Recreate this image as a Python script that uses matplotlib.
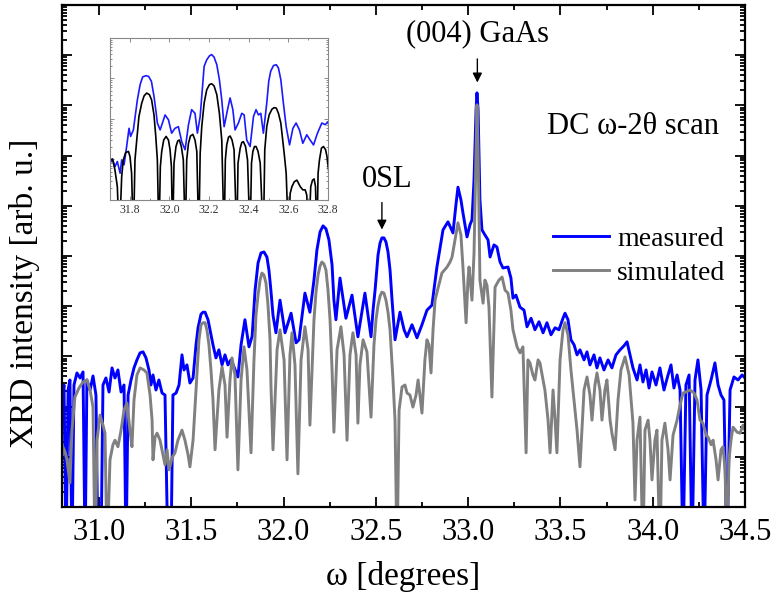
import numpy as np
import matplotlib
matplotlib.use('Agg')
import matplotlib.pyplot as plt
from matplotlib.ticker import LogLocator, NullFormatter, MultipleLocator

# values: (omega [deg], log10 intensity); -1 means the trace drops below the axis
measuredPoints = [
    (30.800, 2.23), (30.811, 2.43), (30.822, -1), (30.833, 2.33), (30.843, 2.53), (30.854, -1),
    (30.865, 2.43), (30.881, 2.67), (30.898, 2.57), (30.914, 2.69), (30.925, -1), (30.935, 2.53),
    (30.952, 2.33), (30.968, 2.61), (30.984, 2.23), (30.995, -1), (31.011, -1), (31.022, 2.43),
    (31.038, 2.57), (31.055, 2.29), (31.071, 2.77), (31.087, 2.57), (31.103, 2.73), (31.120, 2.29),
    (31.136, 2.43), (31.147, -1), (31.158, 2.23), (31.174, 2.53), (31.190, 2.77), (31.206, 2.93),
    (31.223, 3.07), (31.239, 3.09), (31.255, 2.97), (31.271, 2.73), (31.282, 2.43), (31.293, 2.63),
    (31.309, 2.33), (31.325, 2.53), (31.342, 2.27), (31.358, 2.23), (31.374, -1), (31.390, -1),
    (31.401, 2.23), (31.418, 2.27), (31.434, 2.43), (31.450, 3.03), (31.461, 2.73), (31.477, 2.83),
    (31.493, 2.47), (31.510, 2.57), (31.526, 3.23), (31.537, 3.57), (31.553, 3.84), (31.564, 3.88),
    (31.575, 3.88), (31.591, 3.73), (31.607, 3.43), (31.618, 3.23), (31.634, 2.97), (31.650, 3.13),
    (31.667, 2.83), (31.683, 3.03), (31.699, 2.83), (31.715, 2.93), (31.732, 2.79), (31.753, 2.59),
    (31.770, 3.23), (31.791, 3.73), (31.813, 3.19), (31.830, 3.40), (31.846, 4.32), (31.862, 4.86),
    (31.878, 5.06), (31.894, 5.08), (31.910, 4.98), (31.921, 4.72), (31.932, 4.30), (31.943, 3.82),
    (31.959, 3.47), (31.981, 4.12), (32.008, 3.47), (32.041, 3.86), (32.068, 3.27), (32.084, 3.33),
    (32.116, 4.26), (32.143, 3.88), (32.165, 4.52), (32.181, 5.12), (32.198, 5.48), (32.214, 5.60),
    (32.230, 5.54), (32.246, 5.32), (32.263, 4.82), (32.273, 4.12), (32.284, 3.73), (32.306, 4.56),
    (32.338, 3.76), (32.371, 4.22), (32.403, 3.39), (32.441, 4.26), (32.474, 3.39), (32.485, 3.92),
    (32.496, 4.32), (32.512, 5.02), (32.523, 5.26), (32.533, 5.36), (32.544, 5.36), (32.555, 5.28),
    (32.566, 5.08), (32.577, 4.72), (32.588, 4.12), (32.604, 3.33), (32.631, 3.88), (32.653, 3.53),
    (32.669, 3.39), (32.696, 3.63), (32.723, 3.37), (32.750, 3.63), (32.777, 3.92), (32.804, 4.02),
    (32.831, 4.78), (32.864, 5.52), (32.891, 5.68), (32.918, 5.46), (32.934, 6.02), (32.945, 6.37),
    (32.961, 6.12), (32.972, 5.86), (32.994, 5.38), (33.010, 5.62), (33.021, 5.72), (33.032, 6.51),
    (33.043, 7.91), (33.048, 8.25), (33.054, 7.91), (33.064, 6.12), (33.075, 5.52), (33.091, 5.42),
    (33.108, 5.32), (33.119, 4.98), (33.140, 5.22), (33.156, 5.18), (33.173, 4.88), (33.189, 4.76),
    (33.216, 4.78), (33.232, 4.56), (33.243, 4.16), (33.259, 4.22), (33.281, 3.98), (33.303, 3.92),
    (33.319, 3.59), (33.341, 3.76), (33.362, 3.53), (33.384, 3.69), (33.406, 3.47), (33.427, 3.67),
    (33.449, 3.43), (33.471, 3.57), (33.492, 3.53), (33.514, 3.76), (33.525, 3.86), (33.541, 3.73),
    (33.557, 3.33), (33.574, 3.23), (33.590, 3.03), (33.606, 3.13), (33.628, 2.93), (33.644, 3.09),
    (33.660, 2.83), (33.682, 3.03), (33.698, 2.77), (33.714, 2.97), (33.736, 2.73), (33.758, 2.93),
    (33.779, 2.77), (33.801, 3.03), (33.823, 3.13), (33.844, 3.21), (33.861, 3.29), (33.877, 3.03),
    (33.893, 2.77), (33.915, 2.53), (33.931, 2.83), (33.947, 2.49), (33.964, 2.73), (33.980, 2.37),
    (33.996, 2.69), (34.018, 2.43), (34.039, 2.77), (34.061, 2.33), (34.083, 2.63), (34.099, 2.83),
    (34.115, 2.37), (34.132, 2.63), (34.148, 2.33), (34.164, -1), (34.180, 2.43), (34.197, 2.63),
    (34.213, -1), (34.229, 2.53), (34.245, 2.93), (34.262, 2.33), (34.278, -1), (34.294, 2.23),
    (34.316, 2.53), (34.337, 2.87), (34.354, 2.43), (34.370, 2.23), (34.386, 2.13), (34.402, -1),
    (34.419, 2.33), (34.440, 2.59), (34.462, 2.53), (34.484, 2.63), (34.500, 2.57),
]

simulatedPoints = [
    (30.800, 1.24), (30.816, 1.10), (30.827, 0.94), (30.843, 0.48), (30.854, 1.53), (30.870, 2.19),
    (30.892, 2.37), (30.914, 2.49), (30.935, 2.53), (30.952, 2.33), (30.968, 1.99), (30.979, -1),
    (30.990, 1.33), (31.006, 1.83), (31.022, 1.63), (31.033, 1.47), (31.044, -1), (31.060, 0.94),
    (31.076, 1.24), (31.087, 1.33), (31.103, 1.20), (31.120, 1.53), (31.136, 1.93), (31.152, 2.07),
    (31.168, 1.53), (31.179, 1.20), (31.190, 2.13), (31.206, 2.63), (31.223, 2.77), (31.244, 2.73),
    (31.260, 2.67), (31.277, 2.23), (31.288, 1.73), (31.293, 0.94), (31.304, 1.39), (31.315, 1.47),
    (31.331, 1.33), (31.347, 1.04), (31.358, 0.84), (31.369, 1.14), (31.380, 0.74), (31.396, 0.98),
    (31.412, 1.08), (31.428, 1.33), (31.450, 1.53), (31.466, 1.33), (31.483, 1.04), (31.493, 0.80),
    (31.510, 1.33), (31.526, 2.33), (31.542, 3.33), (31.553, 3.63), (31.564, 3.67), (31.575, 3.67),
    (31.585, 3.53), (31.596, 3.23), (31.607, 2.73), (31.618, 2.13), (31.629, 1.14), (31.650, 2.33),
    (31.667, 2.79), (31.683, 2.43), (31.694, 1.39), (31.710, 2.53), (31.721, 2.97), (31.737, 2.63),
    (31.753, 0.74), (31.770, 2.53), (31.786, 3.19), (31.802, 2.73), (31.824, 1.08), (31.840, 2.93),
    (31.851, 3.82), (31.862, 4.22), (31.873, 4.52), (31.883, 4.66), (31.894, 4.62), (31.905, 4.46),
    (31.916, 4.02), (31.927, 3.33), (31.932, 2.43), (31.943, 1.14), (31.965, 3.13), (31.981, 3.53),
    (32.003, 2.93), (32.019, 0.94), (32.035, 3.03), (32.046, 3.47), (32.062, 2.83), (32.078, 0.66),
    (32.095, 2.93), (32.116, 3.59), (32.133, 3.13), (32.143, 1.63), (32.165, 3.73), (32.176, 4.28),
    (32.187, 4.62), (32.198, 4.80), (32.208, 4.88), (32.219, 4.84), (32.230, 4.72), (32.241, 4.32),
    (32.252, 3.73), (32.263, 2.73), (32.273, 1.49), (32.290, 3.13), (32.311, 3.59), (32.328, 3.03),
    (32.344, 1.33), (32.360, 3.03), (32.376, 3.47), (32.393, 3.03), (32.403, 1.67), (32.414, 2.83),
    (32.431, 3.33), (32.452, 3.09), (32.474, 1.79), (32.490, 3.23), (32.501, 3.73), (32.512, 4.02),
    (32.523, 4.20), (32.533, 4.28), (32.544, 4.26), (32.555, 4.12), (32.566, 3.88), (32.577, 3.53),
    (32.593, 2.53), (32.604, 1.73), (32.615, -1), (32.626, 1.93), (32.642, 2.39), (32.658, 2.43),
    (32.669, 2.27), (32.685, 2.23), (32.701, 1.99), (32.718, 2.23), (32.729, 2.53), (32.739, 2.23),
    (32.750, 1.87), (32.766, 2.93), (32.777, 3.33), (32.788, 3.23), (32.799, 2.67), (32.810, 3.53),
    (32.821, 4.12), (32.837, 4.36), (32.858, 4.66), (32.886, 4.78), (32.902, 4.88), (32.913, 4.98),
    (32.929, 5.32), (32.945, 5.66), (32.961, 5.42), (32.972, 4.78), (32.989, 3.67), (32.999, 4.52),
    (33.005, 4.78), (33.021, 4.12), (33.032, 5.06), (33.043, 7.11), (33.048, 8.01), (33.054, 7.11),
    (33.064, 4.52), (33.081, 4.06), (33.091, 4.52), (33.102, 4.42), (33.113, 3.98), (33.129, 2.19),
    (33.146, 4.38), (33.167, 4.52), (33.184, 4.58), (33.200, 4.32), (33.216, 4.26), (33.232, 3.92),
    (33.243, 3.53), (33.265, 3.19), (33.281, 3.07), (33.297, 3.19), (33.314, 1.08), (33.324, 2.93),
    (33.335, 2.87), (33.351, 2.63), (33.362, 2.53), (33.379, 2.93), (33.389, 2.87), (33.406, 2.53),
    (33.416, 2.33), (33.433, 1.73), (33.444, 1.08), (33.460, 2.33), (33.471, 1.73), (33.481, 1.08),
    (33.498, 2.93), (33.514, 3.53), (33.525, 3.67), (33.541, 3.43), (33.557, 2.73), (33.568, 2.33),
    (33.590, 1.53), (33.606, 0.80), (33.628, 2.33), (33.644, 2.59), (33.660, 2.23), (33.671, 1.73),
    (33.687, 2.43), (33.698, 2.67), (33.714, 2.33), (33.725, 1.73), (33.741, 2.33), (33.752, 2.53),
    (33.769, 1.73), (33.779, 1.47), (33.796, 1.14), (33.812, 2.13), (33.828, 2.73), (33.850, 2.99),
    (33.872, 2.63), (33.893, 1.67), (33.904, 0.14), (33.915, 1.33), (33.931, 1.79), (33.947, -1),
    (33.958, 1.53), (33.975, 1.73), (33.985, 1.33), (33.996, 0.54), (34.012, 1.33), (34.023, 1.53),
    (34.039, -1), (34.050, 1.33), (34.066, 1.67), (34.083, 1.14), (34.094, 0.54), (34.110, 1.43),
    (34.132, 1.73), (34.148, 2.03), (34.164, 2.27), (34.180, 2.29), (34.202, 2.33), (34.224, 2.27),
    (34.240, 2.13), (34.256, 1.73), (34.272, 1.67), (34.289, 1.43), (34.300, 1.39), (34.316, 1.24),
    (34.327, 1.33), (34.343, 0.94), (34.354, 0.54), (34.370, 1.14), (34.381, 1.20), (34.392, 0.74),
    (34.402, -1), (34.413, 0.94), (34.424, 1.33), (34.435, 1.59), (34.457, 1.49), (34.473, 1.47),
    (34.489, 1.63), (34.500, 1.53),
]

# inset: zoom on 31.7 - 32.8 deg
insetMeasuredPoints = [
    (31.700, 0.91), (31.713, 1.01), (31.725, 0.82), (31.737, 0.95), (31.751, 0.66), (31.759, 0.99),
    (31.771, 0.87), (31.784, 1.32), (31.796, 1.77), (31.804, 1.57), (31.818, 1.73), (31.838, 2.47),
    (31.852, 2.85), (31.865, 3.04), (31.882, 3.07), (31.895, 3.05), (31.909, 2.93), (31.922, 2.56),
    (31.932, 2.19), (31.939, 1.90), (31.953, 1.73), (31.978, 2.10), (31.995, 1.98), (32.011, 1.65),
    (32.028, 1.77), (32.045, 1.81), (32.062, 1.44), (32.079, 1.24), (32.096, 1.86), (32.112, 2.23),
    (32.129, 2.14), (32.141, 1.65), (32.155, 2.06), (32.175, 3.30), (32.188, 3.46), (32.202, 3.56),
    (32.213, 3.59), (32.225, 3.53), (32.239, 3.34), (32.252, 2.97), (32.264, 2.47), (32.276, 1.81),
    (32.293, 2.23), (32.306, 2.52), (32.320, 2.23), (32.331, 1.73), (32.348, 1.90), (32.365, 2.14),
    (32.377, 2.10), (32.390, 1.48), (32.407, 1.32), (32.424, 2.06), (32.437, 2.23), (32.449, 2.10),
    (32.461, 2.14), (32.474, 1.65), (32.491, 2.39), (32.501, 2.93), (32.511, 3.18), (32.525, 3.32),
    (32.539, 3.34), (32.550, 3.26), (32.562, 2.97), (32.575, 2.39), (32.589, 1.81), (32.606, 1.36),
    (32.623, 1.77), (32.639, 1.90), (32.656, 1.73), (32.673, 1.40), (32.693, 1.61), (32.710, 1.48),
    (32.727, 1.36), (32.747, 1.65), (32.769, 1.90), (32.786, 1.86), (32.803, 1.94),
]

insetSimulatedPoints = [
    (31.700, 0.99), (31.713, 1.01), (31.725, 0.74), (31.737, 0.33), (31.747, -1),
    (31.759, 0.58), (31.767, 0.99), (31.779, 1.17), (31.793, 1.20), (31.801, 1.07), (31.809, 0.66),
    (31.818, -1), (31.826, 0.99), (31.835, 1.48), (31.846, 2.06), (31.860, 2.39), (31.872, 2.57),
    (31.885, 2.64), (31.899, 2.60), (31.910, 2.47), (31.922, 2.10), (31.931, 1.57), (31.939, 0.99),
    (31.947, -1), (31.954, 0.82), (31.961, 1.20), (31.971, 1.48), (31.983, 1.57), (31.995, 1.48),
    (32.003, 1.24), (32.010, 0.82), (32.016, -1), (32.023, 0.91), (32.033, 1.32), (32.042, 1.46),
    (32.050, 1.48), (32.060, 1.32), (32.070, 0.99), (32.080, -1), (32.087, 0.99), (32.096, 1.40),
    (32.106, 1.58), (32.118, 1.62), (32.129, 1.48), (32.138, 1.20), (32.148, -1), (32.155, 1.15),
    (32.163, 1.81), (32.175, 2.39), (32.188, 2.72), (32.202, 2.85), (32.213, 2.87), (32.225, 2.82),
    (32.239, 2.60), (32.252, 2.14), (32.264, 1.48), (32.276, -1), (32.282, 0.99), (32.289, 1.36),
    (32.298, 1.55), (32.306, 1.58), (32.316, 1.48), (32.326, 1.24), (32.340, -1), (32.346, 0.91),
    (32.357, 1.28), (32.365, 1.42), (32.373, 1.44), (32.384, 1.32), (32.394, 0.99), (32.407, -1),
    (32.414, 0.91), (32.421, 1.20), (32.429, 1.32), (32.437, 1.32), (32.447, 1.20), (32.458, 0.91),
    (32.474, -1), (32.481, 1.24), (32.491, 1.81), (32.503, 2.10), (32.517, 2.24), (32.528, 2.28),
    (32.539, 2.27), (32.550, 2.14), (32.562, 1.90), (32.579, 1.15), (32.589, 0.66), (32.601, -1),
    (32.609, 0.16), (32.618, 0.33), (32.630, 0.45), (32.643, 0.49), (32.660, 0.33), (32.673, 0.25),
    (32.685, 0.25), (32.693, 0.12), (32.702, -1), (32.713, 0.33), (32.722, 0.49), (32.730, 0.52),
    (32.737, 0.33), (32.744, -1), (32.750, 0.66), (32.757, 0.99), (32.767, 1.28), (32.777, 1.32),
    (32.788, 1.24), (32.795, 1.07), (32.803, 0.74),
]

xTicks = [31.0, 31.5, 32.0, 32.5, 33.0, 33.5, 34.0, 34.5]
insetTicks = [31.8, 32.0, 32.2, 32.4, 32.6, 32.8]

plt.rcParams['font.family'] = ['Liberation Serif', 'DejaVu Serif']


def curve(points):
    data = np.array(points)
    return data[:, 0], 10 ** data[:, 1]


def logAxis(axis, size, width):
    axis.set_yscale('log')
    axis.yaxis.set_major_locator(LogLocator(base=10, numticks=30))
    axis.yaxis.set_minor_locator(LogLocator(base=10, subs=np.arange(2, 10), numticks=30))
    axis.yaxis.set_major_formatter(NullFormatter())
    axis.yaxis.set_minor_formatter(NullFormatter())
    axis.tick_params(which='both', direction='in', top=True, right=True, width=width)
    axis.tick_params(which='major', length=size)
    axis.tick_params(which='minor', length=size * 0.55)


figure = plt.figure(figsize=(7.73, 6.06), dpi=100)
mainAxis = figure.add_axes([0.0802, 0.1634, 0.8836, 0.8284])

omega, intensity = curve(measuredPoints)
mainAxis.plot(omega, intensity, color='#0000ff', lw=2.1, label='measured')
omega, intensity = curve(simulatedPoints)
mainAxis.plot(omega, intensity, color='#808080', lw=2.1, label='simulated')

mainAxis.set_xlim(30.8, 34.5)
mainAxis.set_ylim(1, 1e10)
logAxis(mainAxis, 7, 1.3)
mainAxis.set_xticks(xTicks)
mainAxis.set_xticklabels(['%.1f' % t for t in xTicks])
mainAxis.xaxis.set_minor_locator(MultipleLocator(0.25))
mainAxis.tick_params(axis='x', labelsize=22, pad=8)
for spine in mainAxis.spines.values():
    spine.set_linewidth(1.6)

mainAxis.set_xlabel('ω [degrees]', fontsize=24, labelpad=10)
mainAxis.set_ylabel('XRD intensity [arb. u.]', fontsize=24)
mainAxis.yaxis.set_label_coords(-0.032, 0.426)

mainAxis.legend(loc='center left', bbox_to_anchor=(0.719, 0.5), frameon=False, fontsize=20,
                handlelength=2.0, handletextpad=0.3, labelspacing=0.3, borderpad=0, borderaxespad=0)

mainAxis.text(0.836, 0.757, 'DC ω-2θ scan', transform=mainAxis.transAxes, fontsize=22,
              ha='center', va='center')
mainAxis.annotate('', xy=(33.05, 10 ** 8.40), xytext=(33.05, 10 ** 8.98),
                  arrowprops=dict(arrowstyle='-|>', color='black', lw=1.0, mutation_scale=14))
mainAxis.text(33.05, 10 ** 9.42, '(004) GaAs', fontsize=22, ha='center', va='center')
mainAxis.annotate('', xy=(32.533, 10 ** 5.47), xytext=(32.533, 10 ** 6.12),
                  arrowprops=dict(arrowstyle='-|>', color='black', lw=1.0, mutation_scale=14))
mainAxis.text(32.56, 10 ** 6.52, '0SL', fontsize=22, ha='center', va='center')

# inset
insetAxis = figure.add_axes([0.1423, 0.670, 0.282, 0.2673])
omega, intensity = curve(insetMeasuredPoints)
insetAxis.plot(omega, intensity, color='#1a1aff', lw=1.2)
omega, intensity = curve(insetSimulatedPoints)
insetAxis.plot(omega, intensity, color='black', lw=1.2)
insetAxis.set_xlim(31.7, 32.8)
insetAxis.set_ylim(1, 1e4)
logAxis(insetAxis, 3, 0.6)
insetAxis.set_xticks(insetTicks)
insetAxis.set_xticklabels(['%.1f' % t for t in insetTicks])
insetAxis.xaxis.set_minor_locator(MultipleLocator(0.1))
insetAxis.tick_params(axis='x', labelsize=8.5, labelcolor='#333333', pad=3)
insetAxis.tick_params(which='both', color='#777777')
for spine in insetAxis.spines.values():
    spine.set_linewidth(0.8)
    spine.set_color('#888888')

plt.savefig('out.png', dpi=100)
